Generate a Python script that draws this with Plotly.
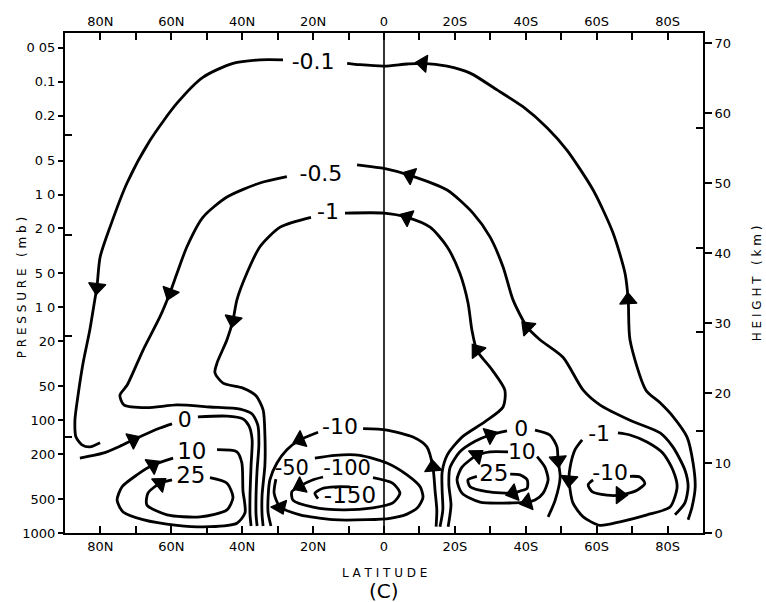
import math
import plotly.graph_objects as go

# ---------------- axis values ----------------
lat_ticks = [80, 70, 60, 50, 40, 30, 20, 10, 0, -10, -20, -30, -40, -50, -60, -70, -80]
lat_ticktext = ['80N', '', '60N', '', '40N', '', '20N', '', '0', '', '20S', '', '40S', '', '60S', '', '80S']
height_ticks = [0, 10, 20, 30, 40, 50, 60, 70]
pressure_mb = [0.05, 0.1, 0.2, 0.5, 1, 2, 5, 10, 20, 50, 100, 200, 500, 1000]
pressure_text = ['0 05', '0.1', '0.2', '0 5', '1 0', '2 0', '5 0', '1 0', '20', '50', '100', '200', '500', '1000']
inner_ticks_left = [56.9, 42.6, 28.1, 13.7]
inner_ticks_right = [57.9, 40.7, 28.7, 14.6]
SCALE_HEIGHT = 7.0
TOP_KM = 71.43

# ---------------- streamfunction contours (lat N positive, height km), flow order ----------------
c01_lat = [-85.8, -86.9, -87.8, -87.2, -85.5, -81.6, -77.9, -73.9, -69.4, -68.9, -68.0, -64.6, -59.0, -51.6, -46.0,
           -39.2, -31.9, -24.3, -17.8, -11.0, -6.5, 0, 6.8, 10.4, None, 28.5, 35.0, 42.6, 51.1, 58.4, 66.0, 72.5,
           77.3, 80.1, 81.0, 81.6, 83.0, 84.9, 86.4, 87.2, 86.9, 85.2, 83.0, 80.1]
c01_km = [1.9, 3.7, 6.6, 10.0, 13.7, 16.6, 18.6, 20.4, 27.6, 33.3, 37.1, 42.9, 49.0, 54.7, 57.9,
          60.9, 63.3, 65.7, 66.7, 67.1, 67.0, 66.7, 66.9, 67.1, None, 67.6, 67.6, 67.1, 65.1, 61.4, 56.1, 50.0,
          43.7, 39.4, 35.1, 33.3, 29.0, 24.3, 19.4, 16.1, 13.7, 12.6, 12.3, 12.9]
c01_arrows = [9, 19, 34]

c05_lat = [-82.1, -84.9, -85.8, -84.9, -81.5, -77.9, -69.4, -60.9, -56.2, -50.5, -44.0, -40.4, -36.4, -33.6, -29.9,
           -25.1, -17.8, -7.3, 0, 3.1, 7.6, None, 27.4, 35.0, 44.3, 51.1, 55.6, 58.4, 60.4, 63.2, 68.0, 72.5, 74.5,
           73.4, 66.9, 58.4, 49.1, 40.6, 37.2, 35.6, 35.3, 35.8, 36.1, 36.1, 35.8]
c05_km = [2.6, 4.3, 6.6, 9.0, 12.3, 14.3, 16.1, 18.3, 20.4, 25.1, 27.6, 29.4, 33.3, 38.0, 42.3,
          45.7, 49.0, 51.1, 52.1, 52.3, 52.6, None, 50.9, 50.0, 48.0, 45.1, 40.9, 37.1, 34.3, 30.9, 26.1, 21.1, 19.7,
          18.3, 17.9, 18.3, 18.0, 17.7, 17.0, 15.4, 12.6, 9.0, 5.4, 2.6, 1.0]
c05_arrows = [11, 17, 28]

c1_lat = [-15.8, -16.6, -16.4, -16.4, -17.8, -22.0, -28.5, -33.6, -34.1, -30.5, -26.2, -24.8, -23.7, -21.4, -17.8,
          -13.0, -6.5, 0, 11.0, None, 20.6, 29.3, 35.0, 38.7, 41.5, 42.6, 44.3, 47.1, 47.7, 45.4, 39.8, 36.1, 34.1,
          33.6, 33.6, 34.4, 34.4, 34.1]
c1_km = [0.9, 3.3, 6.1, 8.7, 11.1, 13.7, 15.9, 18.0, 20.4, 23.3, 26.1, 29.0, 32.9, 37.1, 40.9,
         43.7, 45.1, 45.7, 45.7, None, 45.1, 43.7, 40.9, 37.1, 33.3, 30.4, 27.6, 24.3, 22.9, 21.4, 20.7, 19.6, 17.6,
         14.0, 9.7, 5.4, 2.6, 1.0]
c1_arrows = [10, 16, 25]

c0n_lat = [85.8, 79.3, 74.5, 70.8, 63.2, 59.8, None, 52.5, 44.3, 39.8, 38.1, 37.2, 37.5, 37.8, 37.8, 37.5]
c0n_km = [10.7, 11.4, 12.4, 13.3, 15.0, 15.6, None, 16.6, 16.7, 16.3, 15.3, 13.3, 9.7, 5.4, 2.6, 1.0]
c0n_arrows = [3]

c10m_lat = [-14.7, -14.9, -14.4, -13.8, -12.1, -8.2, -0.8, 5.9, None, 18.6, 23.7, 27.4, 30.2, 32.2, 32.7, 32.7, 31.9]
c10m_km = [0.9, 3.3, 6.1, 9.4, 12.3, 13.7, 14.7, 14.9, None, 14.4, 13.3, 11.9, 10.0, 7.6, 5.1, 2.9, 1.0]
c10m_arrows = [3, 10]

c50m_lat = [30.5, 31.0, 29.3, 23.7, 14.4, 4.8, -1.7, -6.5, -9.6, -11.0, -10.2, -6.5, -0.8, 6.8, 13.8, 19.5]
c50m_km = [7.7, 5.7, 3.7, 2.6, 1.9, 1.9, 2.1, 2.7, 3.7, 5.1, 6.6, 8.3, 10.0, 11.1, 11.1, 10.7]
c50m_arrows = [2]

c100m_lat = [17.2, 20.0, 23.7, 26.0, 25.7, 20.0, 11.6, 3.1, -2.5, -4.5, -2.5, 3.1]
c100m_km = [8.0, 7.6, 6.7, 5.9, 4.7, 3.7, 3.3, 3.6, 4.3, 5.7, 7.1, 7.9]
c100m_arrows = [2]

c150m_lat = [9.6, 13.8, 17.2, 19.5, 18.6]
c150m_km = [6.6, 6.6, 6.4, 5.7, 4.9]
c150m_arrows = []

c10n_lat = [47.1, 41.5, 40.1, 39.8, 39.2, 41.5, 49.1, 58.4, 68.0, 73.6, 75.3, 73.9, 69.7, 65.2, 59.5]
c10n_km = [11.9, 11.6, 10.0, 6.1, 2.9, 1.4, 0.9, 1.1, 1.9, 3.0, 4.7, 6.6, 8.3, 9.7, 10.7]
c10n_arrows = [13]

c25n_lat = [49.1, 44.3, 42.6, 44.3, 51.9, 61.2, 66.9, 66.6, 63.2, 59.8]
c25n_km = [7.9, 7.1, 5.1, 3.3, 2.3, 2.6, 4.0, 5.7, 7.1, 7.6]
c25n_arrows = [8]

c0s_lat = [-18.1, -18.9, -18.3, -18.6, -21.4, -25.7, -29.9, -34.7, None, -42.6, -46.8, -48.8, -49.1, -49.7, -48.3, -46.3]
c0s_km = [0.9, 4.0, 6.9, 9.3, 11.6, 13.1, 14.0, 14.6, None, 14.7, 14.0, 12.3, 10.4, 8.0, 4.7, 2.3]
c0s_arrows = [6, 12]

c10s_lat = [-43.2, -45.4, -46.3, -44.9, -42.6, -40.4, -36.4, -27.1, -22.0, -20.6, -22.0, -26.2, -29.9, -35.0]
c10s_km = [10.9, 9.4, 7.6, 5.7, 4.7, 4.4, 4.3, 4.4, 5.7, 7.6, 9.4, 11.1, 11.6, 11.6]
c10s_arrows = [5, 11]

c25s_lat = [-35.6, -38.4, -40.4, -40.4, -38.4, -36.4, -29.1, -24.3, -23.7, -26.2]
c25s_km = [8.4, 8.3, 7.6, 6.4, 6.0, 5.7, 5.9, 6.6, 7.6, 8.1]
c25s_arrows = [5]

c1s_lat = [-55.9, -53.9, -52.5, -52.2, -53.3, -56.2, -60.9, -66.6, -74.2, -80.7, -82.7, -81.5, -78.7, -74.2, -69.4, -66.0]
c1s_km = [13.3, 11.9, 9.4, 7.6, 4.3, 2.3, 1.1, 1.6, 2.6, 3.7, 6.6, 9.0, 11.4, 13.0, 14.0, 14.3]
c1s_arrows = [3]

c10sm_lat = [-59.0, -57.6, -58.7, -62.9, -66.6, -71.4, -73.6, -72.2, -69.4]
c10sm_km = [7.6, 6.9, 5.9, 5.4, 5.4, 6.1, 7.1, 8.0, 8.1]
c10sm_arrows = [4]

label_text = ['-0.1', '-0.5', '-1', '-10', '0', '10', '25', '-50', '-100', '-150', '0', '10', '25', '-1', '-10']
label_lat = [20.0, 17.8, 15.8, 12.4, 56.2, 54.2, 54.5, 26.0, 10.4, 9.6, -38.7, -38.9, -31.0, -60.7, -63.8]
label_km = [67.1, 51.1, 45.7, 14.9, 16.0, 11.4, 7.9, 9.1, 9.0, 5.1, 14.7, 11.4, 8.3, 14.0, 8.3]
label_size = [22, 22, 22, 22, 22, 23, 23, 21, 21, 23, 22, 22, 23, 22, 22]

contours = [
    (c01_lat, c01_km, c01_arrows), (c05_lat, c05_km, c05_arrows), (c1_lat, c1_km, c1_arrows),
    (c0n_lat, c0n_km, c0n_arrows), (c10m_lat, c10m_km, c10m_arrows), (c50m_lat, c50m_km, c50m_arrows),
    (c100m_lat, c100m_km, c100m_arrows), (c150m_lat, c150m_km, c150m_arrows),
    (c10n_lat, c10n_km, c10n_arrows), (c25n_lat, c25n_km, c25n_arrows),
    (c0s_lat, c0s_km, c0s_arrows), (c10s_lat, c10s_km, c10s_arrows), (c25s_lat, c25s_km, c25s_arrows),
    (c1s_lat, c1s_km, c1s_arrows), (c10sm_lat, c10sm_km, c10sm_arrows),
]

FONT = 'DejaVu Sans'
fig = go.Figure()

# equator line
fig.add_trace(go.Scatter(x=[0, 0], y=[0, TOP_KM], mode='lines', line=dict(color='black', width=1.6),
                         hoverinfo='skip', showlegend=False))

for lat, km, arrows in contours:
    fig.add_trace(go.Scatter(x=lat, y=km, mode='lines',
                             line=dict(color='black', width=2.8, shape='spline', smoothing=0.7),
                             connectgaps=False, hoverinfo='skip', showlegend=False))
    for i in arrows:
        fig.add_trace(go.Scatter(x=[lat[i - 1], lat[i]], y=[km[i - 1], km[i]], mode='markers',
                                 marker=dict(symbol='triangle-up', size=[0, 15], color='black', angleref='previous',
                                             opacity=1, line=dict(width=1.2, color='black')),
                                 hoverinfo='skip', showlegend=False))

fig.add_trace(go.Scatter(x=label_lat, y=label_km, mode='text', text=label_text,
                         textfont=dict(family=FONT, size=label_size, color='black'),
                         hoverinfo='skip', showlegend=False))

# dummy traces to activate the extra axes
fig.add_trace(go.Scatter(x=[0], y=[0], xaxis='x2', yaxis='y', mode='markers', marker=dict(opacity=0), showlegend=False, hoverinfo='skip'))
fig.add_trace(go.Scatter(x=[0], y=[0], xaxis='x', yaxis='y2', mode='markers', marker=dict(opacity=0), showlegend=False, hoverinfo='skip'))
fig.add_trace(go.Scatter(x=[0], y=[0], xaxis='x', yaxis='y3', mode='markers', marker=dict(opacity=0), showlegend=False, hoverinfo='skip'))
fig.add_trace(go.Scatter(x=[0], y=[0], xaxis='x', yaxis='y4', mode='markers', marker=dict(opacity=0), showlegend=False, hoverinfo='skip'))

pressure_height = [SCALE_HEIGHT * math.log(1000.0 / p) for p in pressure_mb]

axis_font = dict(family=FONT, size=13, color='black')
common_x = dict(range=[90, -90], tickvals=lat_ticks, ticktext=lat_ticktext, ticks='inside', ticklen=7,
                tickwidth=1.5, tickcolor='black', showline=True, linewidth=2, linecolor='black',
                showgrid=False, zeroline=False, tickfont=axis_font, fixedrange=True)

fig.update_layout(
    width=766, height=602,
    margin=dict(l=65, r=63, t=33, b=69),
    paper_bgcolor='white', plot_bgcolor='white',
    xaxis=dict(**common_x, side='bottom'),
    xaxis2=dict(**common_x, side='top', overlaying='x', anchor='y'),
    yaxis=dict(range=[0, TOP_KM], tickvals=pressure_height, ticktext=pressure_text, ticks='outside', ticklen=5,
               tickwidth=1.5, tickcolor='black', showline=True, linewidth=2, linecolor='black',
               showgrid=False, zeroline=False, tickfont=axis_font, side='left'),
    yaxis2=dict(range=[0, TOP_KM], tickvals=height_ticks, ticktext=[str(h) for h in height_ticks],
                ticks='outside', ticklen=7, tickwidth=1.5, tickcolor='black', showline=True, linewidth=2,
                linecolor='black', showgrid=False, zeroline=False, tickfont=axis_font, side='right',
                overlaying='y', anchor='x'),
    yaxis3=dict(range=[0, TOP_KM], tickvals=inner_ticks_left, ticks='inside', ticklen=7, tickwidth=1.5,
                tickcolor='black', showticklabels=False, showline=False, showgrid=False, zeroline=False,
                side='left', overlaying='y', anchor='x'),
    yaxis4=dict(range=[0, TOP_KM], tickvals=inner_ticks_right, ticks='inside', ticklen=7, tickwidth=1.5,
                tickcolor='black', showticklabels=False, showline=False, showgrid=False, zeroline=False,
                side='right', overlaying='y', anchor='x'),
    showlegend=False,
)

title_font = dict(family=FONT, size=12, color='black')
fig.add_annotation(text='P R E S S U R E   ( m b )', textangle=-90, x=-0.067, y=0.49, xref='paper', yref='paper',
                   showarrow=False, font=title_font, xanchor='center', yanchor='middle')
fig.add_annotation(text='H E I G H T   ( k m )', textangle=-90, x=1.085, y=0.5, xref='paper', yref='paper',
                   showarrow=False, font=title_font, xanchor='center', yanchor='middle')
fig.add_annotation(text='L A T I T U D E', x=0.5, y=-0.08, xref='paper', yref='paper',
                   showarrow=False, font=title_font, xanchor='center', yanchor='middle')
fig.add_annotation(text='(C)', x=0.5, y=-0.115, xref='paper', yref='paper',
                   showarrow=False, font=dict(family=FONT, size=20, color='black'), xanchor='center', yanchor='middle')

fig.write_html('out.html')
